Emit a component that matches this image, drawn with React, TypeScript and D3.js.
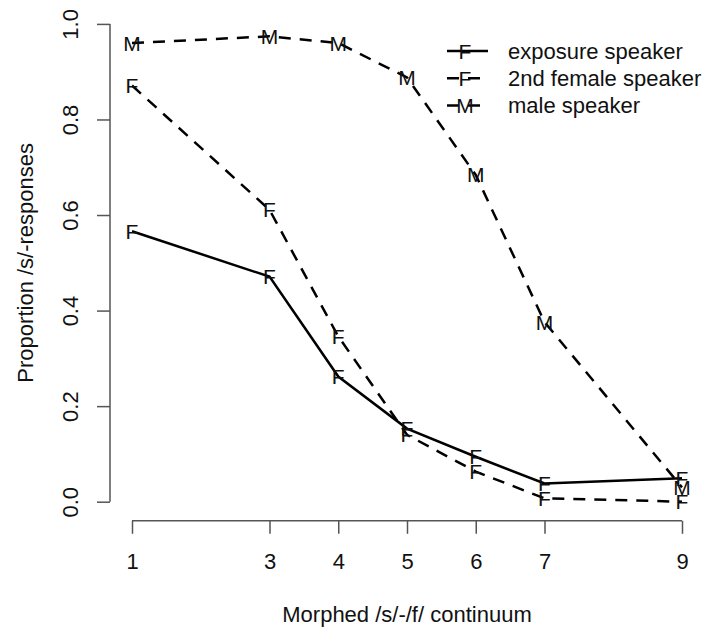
import { useRef, useEffect } from "react";
import * as d3 from "d3";

const steps = [1, 3, 4, 5, 6, 7, 9];
const exposureSpeaker = [0.566, 0.471, 0.262, 0.153, 0.094, 0.038, 0.049];
const femaleSpeaker2 = [0.871, 0.611, 0.346, 0.14, 0.063, 0.007, 0.0];
const maleSpeaker = [0.96, 0.974, 0.96, 0.888, 0.684, 0.376, 0.03];
const yTicks = [0, 0.2, 0.4, 0.6, 0.8, 1.0];

const seriesList = [
  { name: "exposure speaker", values: exposureSpeaker, letter: "F", dash: null },
  { name: "2nd female speaker", values: femaleSpeaker2, letter: "F", dash: "12 9" },
  { name: "male speaker", values: maleSpeaker, letter: "M", dash: "12 9" },
];

const FONT = "'Liberation Sans', Arial, Helvetica, sans-serif";

const App = () => {
  const svgRef = useRef<SVGSVGElement>(null);

  useEffect(() => {
    const svg = d3.select(svgRef.current);
    svg.selectAll("*").remove();

    const fs = 22;
    const x = d3.scaleLinear().domain([0.68, 9.32]).range([110, 704]);
    const y = d3.scaleLinear().domain([-0.04, 1.04]).range([520.8, 4.8]);

    // x axis
    const xAxis = svg
      .append("g")
      .attr("transform", `translate(0,${y(-0.04)})`)
      .call(d3.axisBottom(x).tickValues(steps).tickSize(13).tickSizeOuter(0).tickFormat(d3.format("d")));
    xAxis.select(".domain").attr("d", `M${x(1)},0H${x(9)}`);
    xAxis.selectAll("line, path").attr("stroke", "#555").attr("stroke-width", 1.5);
    xAxis
      .selectAll("text")
      .attr("y", 48.5)
      .attr("dy", null)
      .attr("fill", "#111")
      .style("font-size", `${fs}px`)
      .style("font-family", FONT);

    // y axis
    const yAxis = svg
      .append("g")
      .attr("transform", `translate(${x(0.68)},0)`)
      .call(d3.axisLeft(y).tickValues(yTicks).tickSize(13).tickSizeOuter(0).tickFormat(d3.format(".1f")));
    yAxis.select(".domain").attr("d", `M0,${y(0)}V${y(1)}`);
    yAxis.selectAll("line, path").attr("stroke", "#555").attr("stroke-width", 1.5);
    yAxis
      .selectAll("text")
      .attr("transform", "rotate(-90)")
      .attr("x", 0)
      .attr("y", -32)
      .attr("dy", null)
      .attr("text-anchor", "middle")
      .attr("fill", "#111")
      .style("font-size", `${fs}px`)
      .style("font-family", FONT);

    // axis titles
    svg
      .append("text")
      .attr("x", (x(0.68) + x(9.32)) / 2)
      .attr("y", 621.5)
      .attr("text-anchor", "middle")
      .attr("fill", "#111")
      .style("font-size", `${fs}px`)
      .style("font-family", FONT)
      .text("Morphed /s/-/f/ continuum");

    svg
      .append("text")
      .attr("transform", `translate(33,${(y(-0.04) + y(1.04)) / 2}) rotate(-90)`)
      .attr("text-anchor", "middle")
      .attr("fill", "#111")
      .style("font-size", `${fs}px`)
      .style("font-family", FONT)
      .text("Proportion /s/-responses");

    const line = d3
      .line<number>()
      .x((_, i) => x(steps[i]))
      .y((d) => y(d));

    const pfs = 21;
    seriesList.forEach((s) => {
      svg
        .append("path")
        .datum(s.values)
        .attr("fill", "none")
        .attr("stroke", "#000")
        .attr("stroke-width", 2.5)
        .attr("stroke-dasharray", s.dash)
        .attr("d", line);

      svg
        .append("g")
        .selectAll("text")
        .data(s.values)
        .join("text")
        .attr("x", (_, i) => x(steps[i]))
        .attr("y", (d) => y(d) + pfs * 0.358)
        .attr("text-anchor", "middle")
        .attr("fill", "#111")
        .style("font-size", `${pfs}px`)
        .style("font-family", FONT)
        .text(s.letter);
    });

    // legend
    const legend = svg.append("g");
    const rowY = [51, 78.2, 105.4];
    seriesList.forEach((s, i) => {
      const ly = rowY[i];
      legend
        .append("line")
        .attr("x1", 447)
        .attr("x2", 488)
        .attr("y1", ly)
        .attr("y2", ly)
        .attr("stroke", "#000")
        .attr("stroke-width", 2.5)
        .attr("stroke-dasharray", s.dash);
      legend
        .append("text")
        .attr("x", 465)
        .attr("y", ly + pfs * 0.358)
        .attr("text-anchor", "middle")
        .attr("fill", "#111")
        .style("font-size", `${pfs}px`)
        .style("font-family", FONT)
        .text(s.letter);
      legend
        .append("text")
        .attr("x", 508)
        .attr("y", ly + 7.5)
        .attr("fill", "#111")
        .style("font-size", `${fs}px`)
        .style("font-family", FONT)
        .text(s.name);
    });
  }, []);

  return (
    <svg
      ref={svgRef}
      width={714}
      height={637}
      style={{ position: "absolute", left: 0, top: 0, background: "#fff" }}
    ></svg>
  );
};

export default App;
